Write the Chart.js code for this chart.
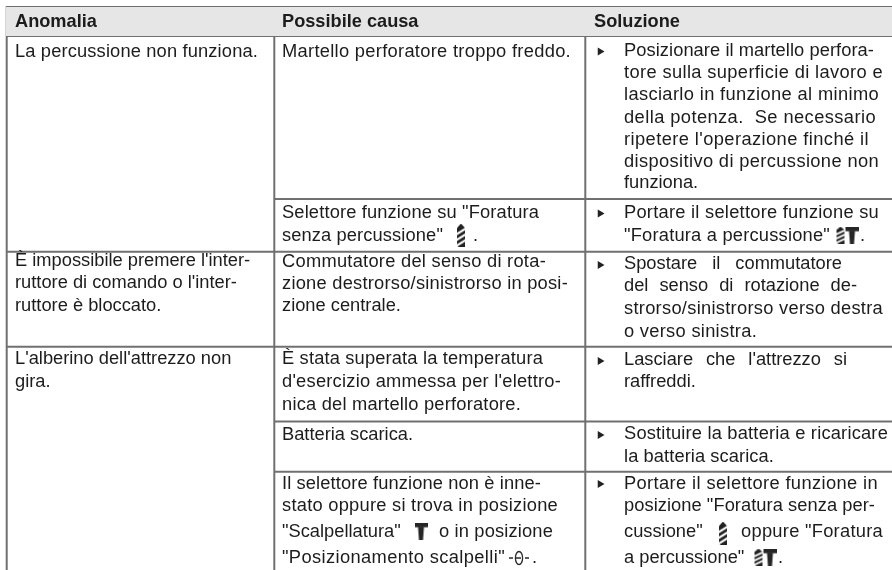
<!DOCTYPE html>
<html>
<head>
<meta charset="utf-8">
<script src="https://cdn.jsdelivr.net/npm/chart.js@4"></script>
<style>
  html, body { margin: 0; padding: 0; background: #fff; }
  canvas { display: block; }
</style>
</head>
<body>
<canvas id="table" width="892" height="570"></canvas>
<script>
// Table text, one entry per printed line
const headers = ['Anomalia', 'Possibile causa', 'Soluzione'];
const anomalie = [
  'La percussione non funziona.',
  "È impossibile premere l'inter-",
  "ruttore di comando o l'inter-",
  'ruttore è bloccato.',
  "L'alberino dell'attrezzo non",
  'gira.'
];
const cause = [
  'Martello perforatore troppo freddo.',
  'Selettore funzione su "Foratura',
  'senza percussione"',
  'Commutatore del senso di rota-',
  'zione destrorso/sinistrorso in posi-',
  'zione centrale.',
  'È stata superata la temperatura',
  "d'esercizio ammessa per l'elettro-",
  'nica del martello perforatore.',
  'Batteria scarica.',
  'Il selettore funzione non è inne-',
  'stato oppure si trova in posizione',
  '"Scalpellatura"',
  '"Posizionamento scalpelli"'
];
const soluzioni = [
  'Posizionare il martello perfora-',
  'tore sulla superficie di lavoro e',
  'lasciarlo in funzione al minimo',
  'della potenza.  Se necessario',
  "ripetere l'operazione finché il",
  'dispositivo di percussione non',
  'funziona.',
  'Portare il selettore funzione su',
  '"Foratura a percussione"',
  'Spostare il commutatore',
  'del senso di rotazione de-',
  'strorso/sinistrorso verso destra',
  'o verso sinistra.',
  "Lasciare che l'attrezzo si",
  'raffreddi.',
  'Sostituire la batteria e ricaricare',
  'la batteria scarica.',
  'Portare il selettore funzione in',
  'posizione "Foratura senza per-',
  'cussione"',
  'a percussione"'
];
// Pieces of text that come after an icon on the same line
const codeTesti = ['.', '.', 'o in posizione', '.', 'oppure "Foratura', '.'];

// Layout, in page units (the hidden scales run 0-892 and 0-570)
const headerX = [15, 282, 594];
const anomalieY = [57, 266, 288, 311, 364, 386.5];
const anomalieFine = [258, null, null, null, null, null];
const causeY = [57, 218, 240.5, 266.5, 288.5, 311, 363.5, 386.5, 409.5, 440, 488.5, 511, 537, 562.5];
const causeFine = [571, 539, 443, 546, 568, null, 543, 561, 521, null, 541, 558, null, 505];
const soluzioniY = [56, 78, 100, 123, 145, 167, 188, 218, 241, 268.5, 291, 314, 337, 364.5, 387, 439, 462, 488.5, 511, 537, 562.5];
const soluzioniFine = [874, 883, 879, 876, 869, 879, null, 879, 830, 842, 857, 883, 757, 847, null, 888, 774, 878, 875, null, null];
const codeX = [473, 860, 439, 532, 741, 778];
const codeY = [240.5, 241, 537, 562.5, 537, 562.5];
const codeFine = [null, null, 553, null, 883, null];
const pallinoY = [51.5, 213.5, 265, 361, 435, 484];
const colonneX = [15, 282, 624];
const verticali = [6.7, 274.3, 585.3];
const orizzontali = [[7, 6, 892], [36, 6, 892], [199, 274, 892], [251.7, 6, 892], [346.7, 6, 892], [421.5, 274, 892], [471.7, 274, 892]];
const iconeTrapano = [[461, 235], [723, 533]];
const iconeDoppie = [[847, 235], [765, 557]];
const iconeMartello = [[421, 531]];
const iconeInnesto = [[519, 558]];

const GRIGIO = '#707070';
const INCHIOSTRO = '#1c1c1c';

function nuovaIcona(w, h, draw) {
  const c = document.createElement('canvas');
  c.width = w;
  c.height = h;
  draw(c.getContext('2d'), w, h);
  return c;
}

function disegnaTrapano(ctx, x, w, h) {
  ctx.save();
  ctx.fillStyle = '#222';
  ctx.beginPath();
  ctx.moveTo(x + w / 2, 0);
  ctx.lineTo(x + w, h * 0.2);
  ctx.lineTo(x + w, h);
  ctx.lineTo(x, h);
  ctx.lineTo(x, h * 0.2);
  ctx.closePath();
  ctx.fill();
  ctx.clip();
  ctx.fillStyle = '#fff';
  [0.3, 0.55, 0.8].forEach(f => {
    ctx.beginPath();
    ctx.moveTo(x, h * (f + 0.1));
    ctx.lineTo(x + w, h * (f - 0.12));
    ctx.lineTo(x + w, h * (f - 0.01));
    ctx.lineTo(x, h * (f + 0.21));
    ctx.closePath();
    ctx.fill();
  });
  ctx.restore();
}

function disegnaMartello(ctx, x, w, h) {
  ctx.fillStyle = '#262626';
  ctx.fillRect(x, 0, w, h * 0.28);
  ctx.beginPath();
  ctx.moveTo(x + w * 0.27, h * 0.25);
  ctx.lineTo(x + w * 0.73, h * 0.25);
  ctx.lineTo(x + w * 0.66, h);
  ctx.lineTo(x + w * 0.34, h);
  ctx.closePath();
  ctx.fill();
}

const pTrapano = nuovaIcona(8, 23, (ctx, w, h) => disegnaTrapano(ctx, 0, w, h));
const pDoppia = nuovaIcona(23, 17, (ctx, w, h) => {
  disegnaTrapano(ctx, 1, 8, h);
  disegnaMartello(ctx, 10, 13, h);
});
const pMartello = nuovaIcona(13, 17, (ctx, w, h) => disegnaMartello(ctx, 0, w, h));
const pInnesto = nuovaIcona(20, 16, (ctx, w, h) => {
  ctx.strokeStyle = '#2a2a2a';
  ctx.lineWidth = 1.3;
  ctx.beginPath();
  ctx.ellipse(w / 2, h / 2, 3.6, 6.5, 0, 0, Math.PI * 2);
  ctx.moveTo(0, h / 2);
  ctx.lineTo(4, h / 2);
  ctx.moveTo(7, h / 2);
  ctx.lineTo(12, h / 2);
  ctx.moveTo(w - 4, h / 2);
  ctx.lineTo(w, h / 2);
  ctx.stroke();
});

function rigaDataset(a, b) {
  return { type: 'line', data: [a, b], borderColor: GRIGIO, borderWidth: 2, pointRadius: 0, fill: false };
}

function puntiIcona(lista, stile) {
  return {
    type: 'scatter',
    data: lista.map(p => ({ x: p[0], y: p[1] })),
    pointStyle: stile,
    pointRadius: 5
  };
}

const datasets = [
  // header band
  {
    type: 'line',
    data: [{ x: 6, y: 7 }, { x: 892, y: 7 }],
    borderWidth: 0,
    pointRadius: 0,
    backgroundColor: '#e6e6e6',
    fill: { value: 36 }
  },
  ...verticali.map(x => rigaDataset({ x, y: 6 }, { x, y: 570 })),
  ...orizzontali.map(r => rigaDataset({ x: r[1], y: r[0] }, { x: r[2], y: r[0] })),
  {
    type: 'scatter',
    data: pallinoY.map(y => ({ x: 600, y })),
    pointStyle: 'triangle',
    rotation: 90,
    pointRadius: 4.5,
    backgroundColor: '#222',
    borderWidth: 0
  },
  puntiIcona(iconeTrapano, pTrapano),
  puntiIcona(iconeDoppie, pDoppia),
  puntiIcona(iconeMartello, pMartello),
  puntiIcona(iconeInnesto, pInnesto)
];

// Writes the table text through the same scales as the rules
const testoTabella = {
  id: 'testoTabella',
  afterDatasetsDraw(chart) {
    const { ctx, scales } = chart;
    const scrivi = (testo, x, y, fine) => {
      const px = scales.x.getPixelForValue(x);
      const py = scales.y.getPixelForValue(y);
      ctx.wordSpacing = '0px';
      ctx.letterSpacing = '0px';
      const spazi = testo.split(' ').length - 1;
      if (fine && spazi) {
        const resto = scales.x.getPixelForValue(fine) - px - ctx.measureText(testo).width;
        // small gaps are taken up between letters, real justified lines between words
        if (resto / testo.length < 0.45) {
          ctx.letterSpacing = (resto / testo.length) + 'px';
        } else {
          ctx.wordSpacing = (resto / spazi) + 'px';
        }
      }
      ctx.fillText(testo, px, py);
    };
    ctx.save();
    ctx.fillStyle = INCHIOSTRO;
    ctx.textBaseline = 'alphabetic';
    ctx.font = 'bold 18.2px "Liberation Sans", Arial, sans-serif';
    headers.forEach((h, i) => scrivi(h, headerX[i], 27));
    ctx.font = '18.3px "Liberation Sans", Arial, sans-serif';
    anomalie.forEach((t, i) => scrivi(t, colonneX[0], anomalieY[i], anomalieFine[i]));
    cause.forEach((t, i) => scrivi(t, colonneX[1], causeY[i], causeFine[i]));
    soluzioni.forEach((t, i) => scrivi(t, colonneX[2], soluzioniY[i], soluzioniFine[i]));
    codeTesti.forEach((t, i) => scrivi(t, codeX[i], codeY[i], codeFine[i]));
    ctx.restore();
  }
};

const chart = new Chart(document.getElementById('table'), {
  type: 'scatter',
  data: { datasets },
  options: {
    responsive: false,
    animation: false,
    layout: { padding: 0, autoPadding: false },
    events: [],
    plugins: { legend: { display: false }, tooltip: { enabled: false } },
    scales: {
      x: { type: 'linear', display: false, min: 0, max: 892 },
      y: { type: 'linear', display: false, min: 0, max: 570, reverse: true }
    }
  },
  plugins: [testoTabella]
});
</script>
</body>
</html>
